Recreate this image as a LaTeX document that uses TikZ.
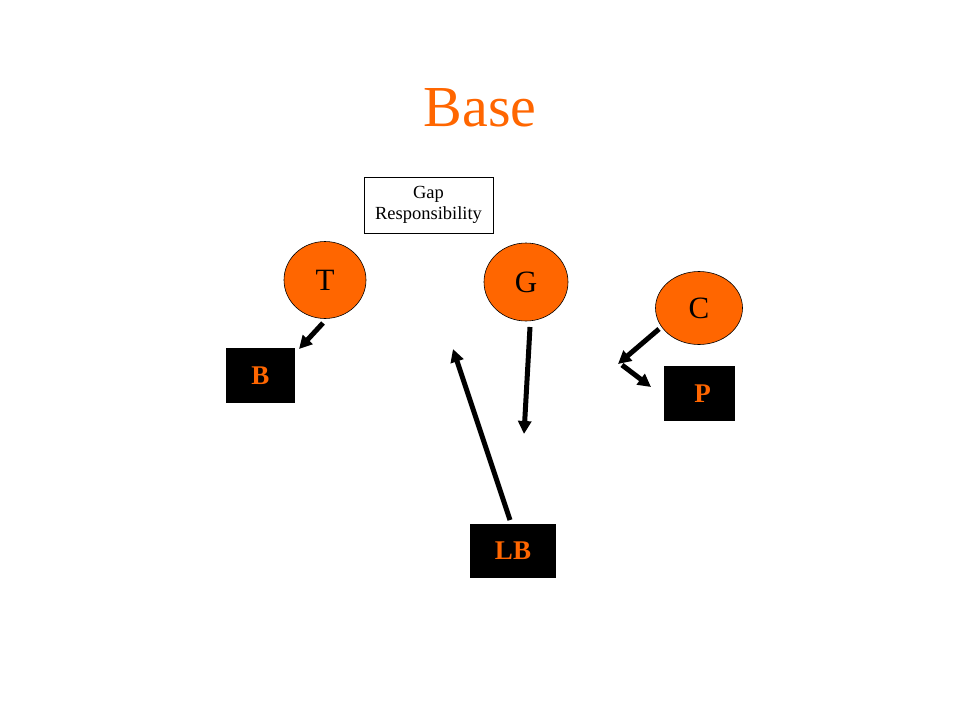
\documentclass[tikz,border=0pt]{standalone}
\usepackage{fontspec}
\setmainfont{Liberation Serif}
\usetikzlibrary{arrows.meta,shapes.geometric}
\definecolor{orng}{HTML}{FF6600}
\tikzset{
  player/.style={ellipse, draw=black, line width=0.6pt, fill=orng, minimum width=#1, font=\fontsize{31}{36}\selectfont},
  blk/.style={rectangle, fill=black, inner sep=0pt, text=orng, font=\fontsize{27}{32}\selectfont\bfseries},
  mv/.style={line width=5pt, -{Triangle[length=13pt,width=13pt]}}
}
\begin{document}
\begin{tikzpicture}[x=1pt,y=-1pt]
\useasboundingbox (0,0) rectangle (960,720);
\fill[white] (0,0) rectangle (960,720);
\node[text=orng, font=\fontsize{58}{66}\selectfont] (title) at (480,108) {Base};
\node[draw=black, line width=0.6pt, minimum width=129pt, minimum height=56pt, align=center, inner sep=0pt, font=\fontsize{18.5}{21}\selectfont] (gap) at (428.5,205) {Gap\\Responsibility};
\node[player=82pt, minimum height=77pt, inner sep=0pt] (T) at (325,280) {T};
\node[player=84pt, minimum height=78pt, inner sep=0pt] (G) at (526,282) {G};
\node[player=87pt, minimum height=73pt, inner sep=0pt] (C) at (699,308) {C};
\node[blk, minimum width=69pt, minimum height=55pt] (B) at (260.5,375.5) {B};
\node[blk, minimum width=71pt, minimum height=55pt] (P) at (699.5,393.5) {\hspace{6pt}P};
\node[blk, minimum width=86pt, minimum height=54pt] (LB) at (513,551) {LB};
\coordinate (t1) at (323,323);
\coordinate (t2) at (299,349);
\coordinate (l1) at (510,520);
\coordinate (l2) at (453,349);
\coordinate (g1) at (530,327);
\coordinate (g2) at (524,434);
\coordinate (c1) at (659,329);
\coordinate (c2) at (618,364);
\coordinate (c3) at (622,365);
\coordinate (c4) at (651,387);
\draw[mv] (t1) -- (t2);
\draw[mv] (l1) -- (l2);
\draw[mv] (g1) -- (g2);
\draw[mv] (c1) -- (c2);
\draw[mv] (c3) -- (c4);
\end{tikzpicture}
\end{document}
